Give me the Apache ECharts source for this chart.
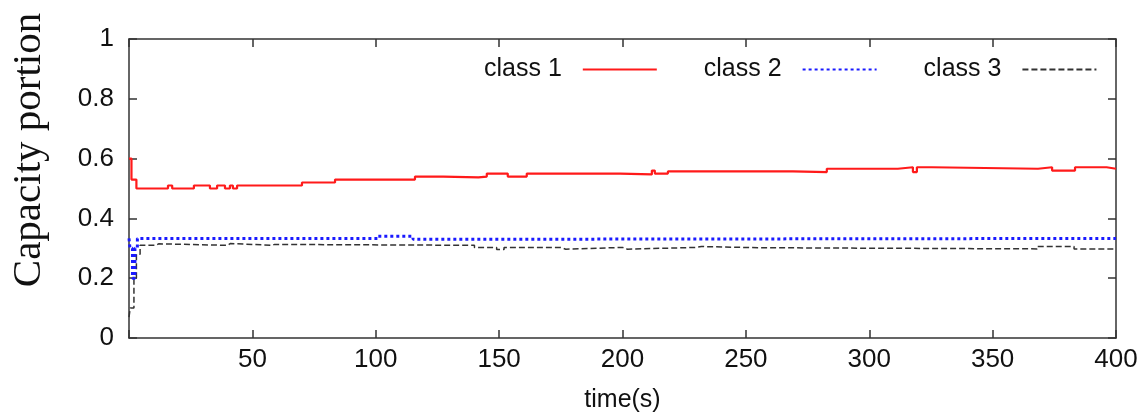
<!DOCTYPE html>
<html>
<head>
<meta charset="utf-8">
<script src="https://cdn.jsdelivr.net/npm/echarts@6/dist/echarts.min.js"></script>
<style>
html,body{margin:0;padding:0;background:#fff;}
#chart{width:1144px;height:418px;}
</style>
</head>
<body>
<div id="chart"></div>
<script>
// ---- data (time in s, capacity portion) ----
var seriesNames = ['class 1', 'class 2', 'class 3'];
var xTicks = [50, 100, 150, 200, 250, 300, 350, 400];
var yTicks = [0, 0.2, 0.4, 0.6, 0.8, 1];

var class1T = [0, 1, 3, 15.8, 17.5, 26.3, 32.8, 35.7, 38.9, 40.9, 42.1, 43.8, 70.1, 83.5, 115.9, 127.3, 141.6, 145, 153.5, 161.2, 199, 211.9, 213.1, 218.4, 269.1, 282.8, 311.6, 317.7, 319.3, 325.4, 368.4, 374.1, 383.4, 396.2, 400];
var class1V = [0.6, 0.53, 0.5, 0.51, 0.5, 0.51, 0.5, 0.51, 0.5, 0.51, 0.5, 0.51, 0.52, 0.53, 0.54, 0.537, 0.54, 0.55, 0.54, 0.55, 0.547, 0.56, 0.55, 0.557, 0.555, 0.566, 0.571, 0.555, 0.571, 0.566, 0.571, 0.56, 0.571, 0.566, 0.566];

var class2T = [0, 0.4, 1.4, 2.4, 3.4, 100.9, 115.1, 127, 400];
var class2V = [0.333, 0.3, 0.2, 0.3, 0.333, 0.34, 0.33, 0.333, 0.333];

var class3T = [0, 0.5, 2, 3, 4.5, 11, 12, 40, 41, 58, 59, 140, 149, 152, 175, 177, 200, 202, 230, 232, 255, 368, 383, 400];
var class3V = [0.07, 0.1, 0.2, 0.28, 0.31, 0.315, 0.31, 0.316, 0.31, 0.313, 0.31, 0.303, 0.296, 0.303, 0.297, 0.303, 0.297, 0.303, 0.306, 0.302, 0.298, 0.306, 0.298, 0.298];

function pairs(t, v) { return t.map(function (x, i) { return [x, v[i]]; }); }

var FONT = 'Liberation Sans';
var chart = echarts.init(document.getElementById('chart'), null, {renderer: 'canvas'});

var frameLine = {show: true, onZero: false, lineStyle: {color: '#333', width: 1.5}};
var tickIn = {show: true, inside: true, length: 8, lineStyle: {color: '#333', width: 1.5}};

chart.setOption({
  animation: false,
  backgroundColor: '#fff',
  grid: {left: 129, right: 28, top: 39, bottom: 80, containLabel: false},
  legend: {
    left: 479, top: 52,
    align: 'right',
    itemWidth: 74, itemHeight: 14, itemGap: 46,
    itemStyle: {opacity: 0},
    textStyle: {fontFamily: FONT, fontSize: 25, color: '#111', padding: [0, 16, 0, 0]},
    data: seriesNames
  },
  xAxis: [{
    type: 'value', min: 0, max: 400, interval: 50,
    axisLine: frameLine, axisTick: tickIn, splitLine: {show: false},
    axisLabel: {fontFamily: FONT, fontSize: 26, color: '#111', margin: 9,
      formatter: function (v) { return xTicks.indexOf(v) >= 0 ? String(v) : ''; }},
    name: 'time(s)', nameLocation: 'middle', nameGap: 50,
    nameTextStyle: {fontFamily: FONT, fontSize: 25, color: '#111'}
  }, {
    type: 'value', min: 0, max: 400, interval: 50, position: 'top',
    axisLine: frameLine, axisTick: tickIn, axisLabel: {show: false}, splitLine: {show: false}
  }],
  yAxis: [{
    type: 'value', min: 0, max: 1, interval: 0.2,
    axisLine: frameLine, axisTick: tickIn, splitLine: {show: false},
    axisLabel: {fontFamily: FONT, fontSize: 26, color: '#111', margin: 15,
      formatter: function (v) { var r = Math.round(v * 10) / 10; return yTicks.indexOf(r) >= 0 ? String(r) : ''; }}
  }, {
    type: 'value', min: 0, max: 1, interval: 0.2, position: 'right',
    axisLine: frameLine, axisTick: tickIn, axisLabel: {show: false}, splitLine: {show: false}
  }],
  graphic: [{
    type: 'text', x: 29, y: 150, rotation: Math.PI / 2,
    style: {text: 'Capacity portion', fontFamily: 'Liberation Serif', fontSize: 41,
      fill: '#111', textAlign: 'center', textVerticalAlign: 'middle'}
  }],
  series: [{
    name: seriesNames[0], type: 'line', step: 'end', symbol: 'none', showSymbol: false,
    data: pairs(class1T, class1V),
    lineStyle: {color: '#ff1a1a', width: 2.2}, itemStyle: {color: '#ff1a1a'}, z: 3
  }, {
    name: seriesNames[1], type: 'line', step: 'end', symbol: 'none', showSymbol: false,
    data: pairs(class2T, class2V),
    lineStyle: {color: '#1a1aff', width: 3, type: [3, 3]}, itemStyle: {color: '#1a1aff'}, z: 2
  }, {
    name: seriesNames[2], type: 'line', step: 'end', symbol: 'none', showSymbol: false,
    data: pairs(class3T, class3V),
    lineStyle: {color: '#333', width: 1.5, type: [6, 3]}, itemStyle: {color: '#333'}, z: 1
  }]
});
</script>
</body>
</html>
